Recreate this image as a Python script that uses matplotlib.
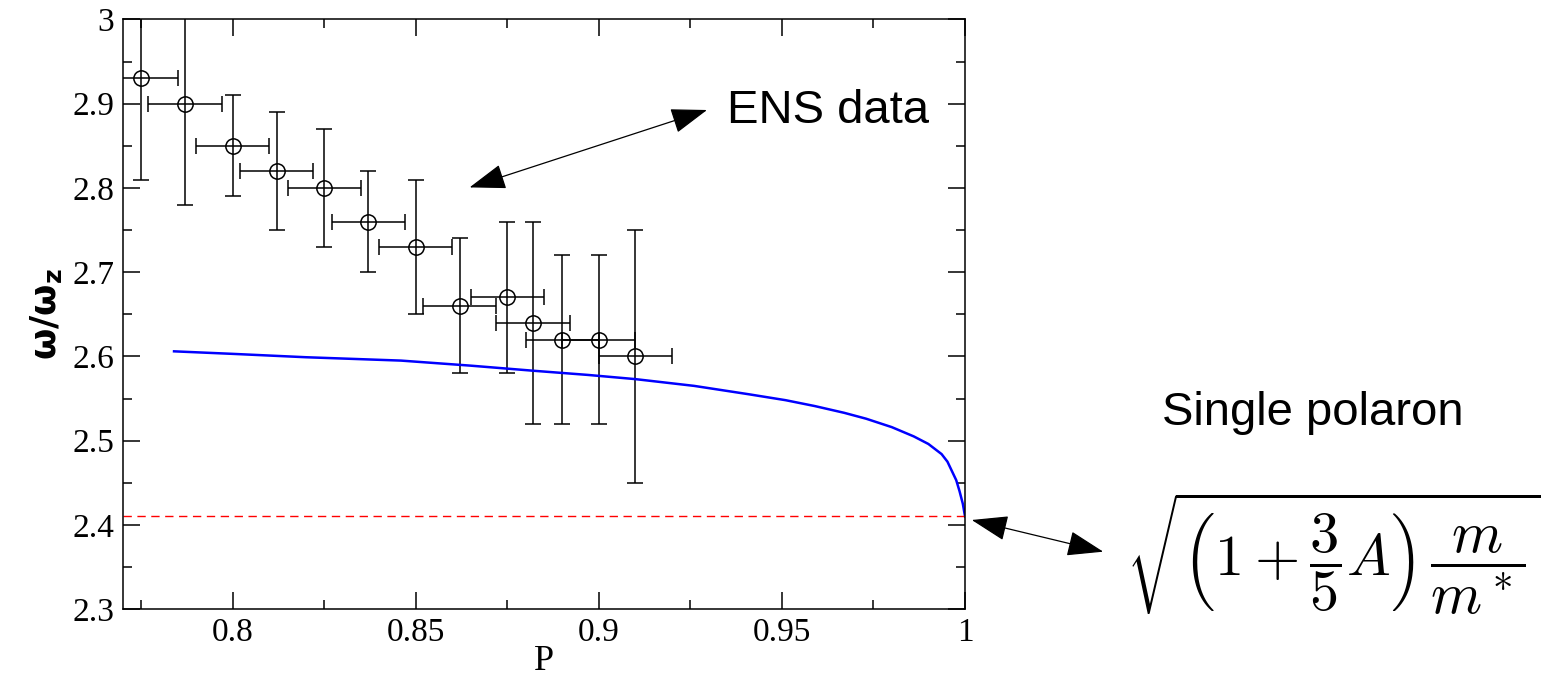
import matplotlib
matplotlib.use('Agg')
import matplotlib.pyplot as plt
from matplotlib.patches import FancyArrowPatch

# ENS experimental points (P, omega/omega_z) with error bars
P_ens = [0.775, 0.787, 0.800, 0.812, 0.825, 0.837, 0.850, 0.862, 0.875, 0.882, 0.890, 0.900, 0.910]
w_ens = [2.93, 2.90, 2.85, 2.82, 2.80, 2.76, 2.73, 2.66, 2.67, 2.64, 2.62, 2.62, 2.60]
w_err = [0.12, 0.12, 0.06, 0.07, 0.07, 0.06, 0.08, 0.08, 0.09, 0.12, 0.10, 0.10, 0.15]
P_err = [0.01, 0.01, 0.01, 0.01, 0.01, 0.01, 0.01, 0.01, 0.01, 0.01, 0.01, 0.01, 0.01]

# theory curve (blue)
P_theory = [0.784, 0.800, 0.820, 0.846, 0.865, 0.882, 0.897, 0.910, 0.926, 0.941, 0.951, 0.959,
            0.967, 0.973, 0.980, 0.986, 0.990, 0.9936, 0.9952, 0.9964, 0.9976, 0.9985, 0.9994, 1.0]
w_theory = [2.606, 2.603, 2.599, 2.595, 2.589, 2.583, 2.578, 2.573, 2.565, 2.555, 2.548, 2.541,
            2.533, 2.526, 2.516, 2.505, 2.496, 2.484, 2.475, 2.464, 2.453, 2.440, 2.425, 2.410]

# single polaron limit (red dashed)
w_polaron = 2.41

x_ticks = [0.8, 0.85, 0.9, 0.95, 1.0]
x_labels = ['0.8', '0.85', '0.9', '0.95', '1']
y_ticks = [2.3, 2.4, 2.5, 2.6, 2.7, 2.8, 2.9, 3.0]
y_labels = ['2.3', '2.4', '2.5', '2.6', '2.7', '2.8', '2.9', '3']

plt.rcParams['font.family'] = 'Liberation Serif'

fig = plt.figure(figsize=(15.58, 6.79), dpi=100)
ax = fig.add_axes([0.0788, 0.103, 0.5406, 0.8683])

ax.errorbar(P_ens, w_ens, xerr=P_err, yerr=w_err, fmt='o', mfc='none', mec='black',
            ms=11, mew=1.1, ecolor='black', elinewidth=1.1, capsize=6, capthick=1.1)
ax.plot(P_theory, w_theory, color='#0000ff', lw=1.8)
ax.axhline(w_polaron, color='#ff0000', lw=1, ls=(0, (6, 4)))

ax.set_xlim(0.77, 1.0)
ax.set_ylim(2.3, 3.0)
ax.set_xticks(x_ticks)
ax.set_xticklabels(x_labels)
ax.set_yticks(y_ticks)
ax.set_yticklabels(y_labels)
ax.set_xticks([0.775, 0.825, 0.875, 0.925, 0.975], minor=True)
ax.set_yticks([2.35, 2.45, 2.55, 2.65, 2.75, 2.85, 2.95], minor=True)
ax.tick_params(which='both', direction='in', top=True, right=True, width=1.1, labelsize=24, pad=6)
ax.tick_params(which='major', length=12)
ax.tick_params(which='minor', length=6.5)
for s in ax.spines.values():
    s.set_linewidth(1.1)

ax.set_xlabel('P', fontsize=26, labelpad=-2)
ax.set_ylabel(r'ω/ω$_\mathregular{z}$', fontsize=26, fontweight='bold', family='DejaVu Sans')
ax.yaxis.set_label_coords(-0.07, 0.5)

# annotations
fig.text(0.4664, 0.8184, 'ENS data', fontsize=34, family='Liberation Sans', va='baseline')
fig.text(0.7456, 0.3741, 'Single polaron', fontsize=34, family='Liberation Sans', va='baseline')
fig.text(0.7225, 0.1830, r'$\sqrt{\left(1+\dfrac{3}{5}A\right)\,\dfrac{m}{m^*}}$',
         fontsize=42, va='center', math_fontfamily='cm')

for a, b in [((0.4538, 0.838), (0.3014, 0.724)), ((0.6237, 0.2342), (0.7081, 0.1875))]:
    arr = FancyArrowPatch(a, b, transform=fig.transFigure, color='black', lw=0.9,
                          arrowstyle='<|-|>,head_length=1.15,head_width=0.4',
                          mutation_scale=20, shrinkA=0, shrinkB=0)
    fig.add_artist(arr)

fig.savefig('out.png', dpi=100)
